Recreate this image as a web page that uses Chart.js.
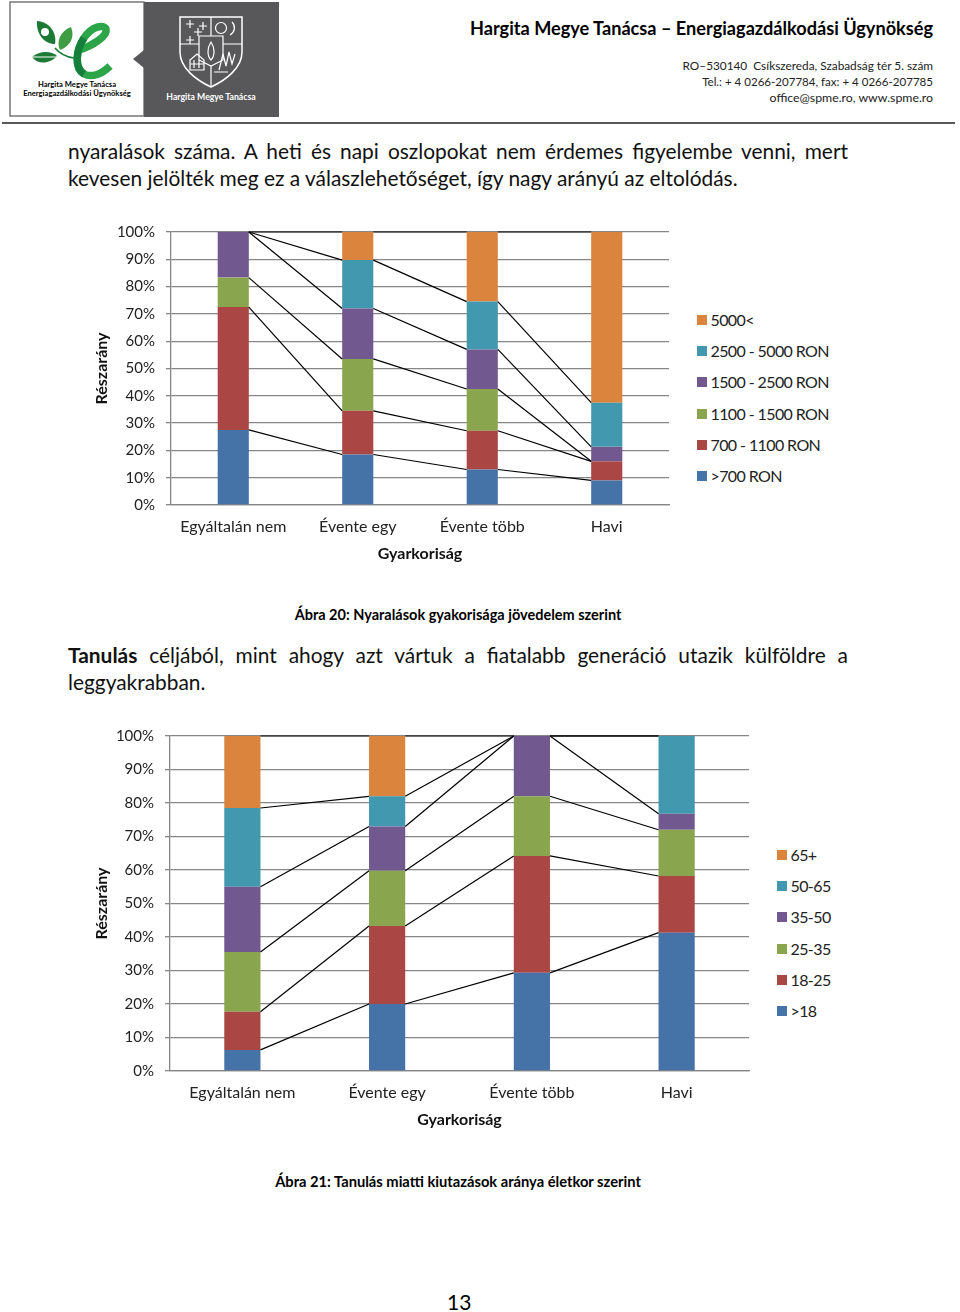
<!DOCTYPE html>
<html lang="hu">
<head>
    <meta charset="UTF-8">
    <title>Ábra 20-21</title>
    <script src="https://cdn.jsdelivr.net/npm/chart.js"></script>
    <style>
        html, body { margin: 0; padding: 0; background: #fff; }
        body { position: relative; width: 960px; height: 1312px; overflow: hidden; font-family: Lato, sans-serif; color: #000; }
        .abs { position: absolute; white-space: nowrap; }
        .title { left: 300px; width: 633px; top: 16px; text-align: right; font-size: 18.15px; font-weight: bold; line-height: 24px; }
        .contact { left: 500px; width: 433px; text-align: right; line-height: 16px; color: #222; }
        .rule { left: 2px; top: 122px; width: 953px; height: 2px; background: #5a5a5a; }
        .para { left: 68px; width: 780px; font-size: 20.9px; line-height: 27px; white-space: normal; text-align: justify; color: #111; }
        .caption { left: 0; text-align: center; font-size: 14.5px; font-weight: bold; line-height: 18px; }
        .page { left: 447px; top: 1290px; font-size: 21px; line-height: 24px; }
        canvas { position: absolute; }
        .legend { position: absolute; }
        .legend div { position: absolute; left: 0; white-space: nowrap; font-size: 16px; line-height: 20px; letter-spacing: -0.6px; color: #222; }
        .legend i { position: absolute; left: 0; top: 5px; width: 10px; height: 10px; }
        .legend span { position: absolute; left: 13.5px; top: 0; }
    </style>
</head>
<body>
    <svg class="abs" style="left:0;top:0" width="290" height="120" viewBox="0 0 290 120">
        <rect x="10" y="2" width="134" height="114" fill="#fff" stroke="#777" stroke-width="1.5"/>
        <rect x="144" y="2" width="135" height="115" fill="#58585a"/>
        <path d="M144 50 L133 59 L144 68 Z" fill="#58585a"/>
        <path d="M37 21 C50 22 57 33 55 44 C44 44 36 34 37 21 Z" fill="#1d7a35"/>
        <circle cx="45" cy="32" r="4" fill="#fff"/>
        <path d="M71 27 C75 36 71 46 60 50 C56 42 60 31 71 27 Z" fill="#3f9e45"/>
        <path d="M32 57 C40 50 52 51 57 56 C50 64 38 65 32 57 Z" fill="#1d7a35"/>
        <path d="M32 57 H57" stroke="#fff" stroke-width="1"/>
        <path d="M55 48 C60 54 66 57 74 58" fill="none" stroke="#137a35" stroke-width="1.6"/>
        <path d="M79 50 C92 46 108 36 106 29 C104 24 92 26 84 38 C76 50 74 68 84 74 C92 78 102 74 110 66" fill="none" stroke="#2ba548" stroke-width="7.5"/>
        <path d="M84 38 C76 50 74 68 84 74" fill="none" stroke="#14803c" stroke-width="7.5"/>
        <text x="77" y="87" text-anchor="middle" font-family="Lato" font-weight="bold" font-size="7.6">Hargita Megye Tanácsa</text>
        <text x="77" y="96" text-anchor="middle" font-family="Lato" font-weight="bold" font-size="7.6">Energiagazdálkodási Ügynökség</text>
        <g fill="none" stroke="#fff" stroke-width="1.2">
            <path stroke-width="1.5" d="M180 17 H242 V52 C242 68 226 80 211 87 C196 80 180 68 180 52 Z"/>
            <path d="M211 17 V36 M180 44 H199 M223 44 H242 M211 66 V87"/>
            <path d="M199 36 H223 V60 L211 66 L199 60 Z"/>
            <circle cx="221" cy="28" r="5.5"/>
            <path d="M232 22 C236 26 235 32 230 35"/>
            <path d="M186 24 h8 M190 20 v8 M199 26 h8 M203 22 v8 M194 32 h8 M198 28 v8 M186 40 h8 M190 36 v8"/>
            <path d="M211 42 C207 48 207 56 211 60 C215 56 215 48 211 42 Z"/>
            <path d="M190 70 V60 L197 54 L204 60 V70 Z M190 64 H204 M194 60 v8 M199 60 v8"/>
            <path d="M219 70 L223 54 L226 66 L229 52 L232 64 L235 54 M214 72 L228 72"/>
        </g>
        <text x="211" y="100" text-anchor="middle" font-family="Lato" font-weight="bold" font-size="8.7" fill="#fff">Hargita Megye Tanácsa</text>
    </svg>

    <div class="abs title">Hargita Megye Tanácsa – Energiagazdálkodási Ügynökség</div>
    <div class="abs contact" style="top:58px;font-size:11.8px">RO–530140 &nbsp;Csíkszereda, Szabadság tér 5. szám</div>
    <div class="abs contact" style="top:74px;font-size:11.55px">Tel.: + 4 0266-207784, fax: + 4 0266-207785</div>
    <div class="abs contact" style="top:90px;font-size:12.3px">office@spme.ro, www.spme.ro</div>
    <div class="abs rule"></div>

    <div class="abs para" style="top:137px">nyaralások száma. A heti és napi oszlopokat nem érdemes figyelembe venni, mert kevesen jelölték meg ez a válaszlehetőséget, így nagy arányú az eltolódás.</div>

    <canvas id="chart1"></canvas>
    <div class="legend" id="legend1" style="left:697px;top:310px"></div>
    <div class="abs caption" style="width:916px;top:606px">Ábra 20: Nyaralások gyakorisága jövedelem szerint</div>

    <div class="abs para" style="top:641px"><b>Tanulás</b> céljából, mint ahogy azt vártuk a fiatalabb generáció utazik külföldre a leggyakrabban.</div>

    <canvas id="chart2"></canvas>
    <div class="legend" id="legend2" style="left:777px;top:845px"></div>
    <div class="abs caption" style="width:916px;top:1172px;font-size:14.7px">Ábra 21: Tanulás miatti kiutazások aránya életkor szerint</div>

    <div class="abs page">13</div>

    <script>
        const categories = ['Egyáltalán nem', 'Évente egy', 'Évente több', 'Havi'];
        const ticks = [0, 10, 20, 30, 40, 50, 60, 70, 80, 90, 100];
        const colors = ['#4572A7', '#AA4643', '#89A54E', '#71588F', '#4198AF', '#DB843D'];

        // jovedelem szerint
        const incomeNames = ['>700 RON', '700 - 1100 RON', '1100 - 1500 RON', '1500 - 2500 RON', '2500 - 5000 RON', '5000<'];
        const income0 = [27.5, 18.5, 13.0, 9.0];
        const income1 = [45.0, 16.0, 14.2, 7.0];
        const income2 = [10.8, 19.0, 15.3, 0];
        const income3 = [16.7, 18.5, 14.5, 5.3];
        const income4 = [0, 17.7, 17.5, 16.2];
        const income5 = [0, 10.3, 25.5, 62.5];

        // eletkor szerint
        const ageNames = ['>18', '18-25', '25-35', '35-50', '50-65', '65+'];
        const age0 = [6.3, 20.0, 29.3, 41.3];
        const age1 = [11.4, 23.3, 34.9, 16.9];
        const age2 = [17.8, 16.5, 17.8, 13.8];
        const age3 = [19.5, 13.2, 18.0, 4.8];
        const age4 = [23.5, 9.0, 0, 23.2];
        const age5 = [21.5, 18.0, 0, 0];

        // the lines joining the stack tops of neighbouring bars
        const seriesLines = {
            id: 'seriesLines',
            afterDatasetsDraw(chart) {
                const ctx = chart.ctx;
                ctx.save();
                ctx.strokeStyle = '#000';
                ctx.lineWidth = 1.2;
                chart.data.datasets.forEach((ds, i) => {
                    const bars = chart.getDatasetMeta(i).data;
                    for (let k = 0; k < bars.length - 1; k++) {
                        ctx.beginPath();
                        ctx.moveTo(bars[k].x + bars[k].width / 2, bars[k].y);
                        ctx.lineTo(bars[k + 1].x - bars[k + 1].width / 2, bars[k + 1].y);
                        ctx.stroke();
                    }
                });
                ctx.restore();
            }
        };

        function makeChart(id, box, names, values) {
            const canvas = document.getElementById(id);
            canvas.style.left = box.left + 'px';
            canvas.style.top = box.top + 'px';
            canvas.style.width = box.width + 'px';
            canvas.style.height = box.height + 'px';
            canvas.width = box.width;
            canvas.height = box.height;

            new Chart(canvas.getContext('2d'), {
                type: 'bar',
                plugins: [seriesLines],
                data: {
                    labels: categories,
                    datasets: names.map((name, i) => ({
                        label: name,
                        data: values[i],
                        backgroundColor: colors[i],
                        barPercentage: box.bar,
                        categoryPercentage: 1
                    }))
                },
                options: {
                    responsive: false,
                    animation: false,
                    layout: { padding: { top: 0, right: box.padRight, left: 0, bottom: 0 } },
                    plugins: { legend: { display: false }, tooltip: { enabled: false } },
                    scales: {
                        x: {
                            stacked: true,
                            grid: { display: false },
                            border: { color: '#868686', width: 1.3 },
                            ticks: { color: '#222', font: { family: 'Lato', size: 16 }, padding: 4.5, maxRotation: 0 },
                            title: { display: true, text: 'Gyarkoriság', color: '#111', font: { family: 'Lato', size: 16, weight: 'bold' }, padding: { top: 6, bottom: 0 } },
                            afterFit(scale) { scale.height = box.xHeight; }
                        },
                        y: {
                            stacked: true,
                            min: 0,
                            max: 100,
                            afterBuildTicks(scale) { scale.ticks = ticks.map(v => ({ value: v })); },
                            grid: { color: '#868686', lineWidth: 1.3, tickLength: 5 },
                            border: { color: '#868686', width: 1.3 },
                            ticks: { color: '#222', font: { family: 'Lato', size: 15 }, padding: 11, callback: v => v + '%' },
                            title: { display: true, text: 'Részarány', color: '#111', font: { family: 'Lato', size: 16, weight: 'bold' }, padding: 0 },
                            afterFit(scale) { scale.width = box.yWidth; }
                        }
                    }
                }
            });
        }

        function makeLegend(id, names) {
            const box = document.getElementById(id);
            names.slice().reverse().forEach((name, i) => {
                const row = document.createElement('div');
                row.style.top = (i * 31.2) + 'px';
                const swatch = document.createElement('i');
                swatch.style.background = colors[names.length - 1 - i];
                const label = document.createElement('span');
                label.textContent = name;
                row.appendChild(swatch);
                row.appendChild(label);
                box.appendChild(row);
            });
        }

        makeChart('chart1', { left: 92, top: 212, width: 588, height: 351, padRight: 11, xHeight: 58, yWidth: 79, bar: 0.25 },
            incomeNames, [income0, income1, income2, income3, income4, income5]);
        makeChart('chart2', { left: 92, top: 716, width: 668, height: 413, padRight: 11, xHeight: 58, yWidth: 78, bar: 0.25 },
            ageNames, [age0, age1, age2, age3, age4, age5]);
        makeLegend('legend1', incomeNames);
        makeLegend('legend2', ageNames);
    </script>
</body>
</html>
